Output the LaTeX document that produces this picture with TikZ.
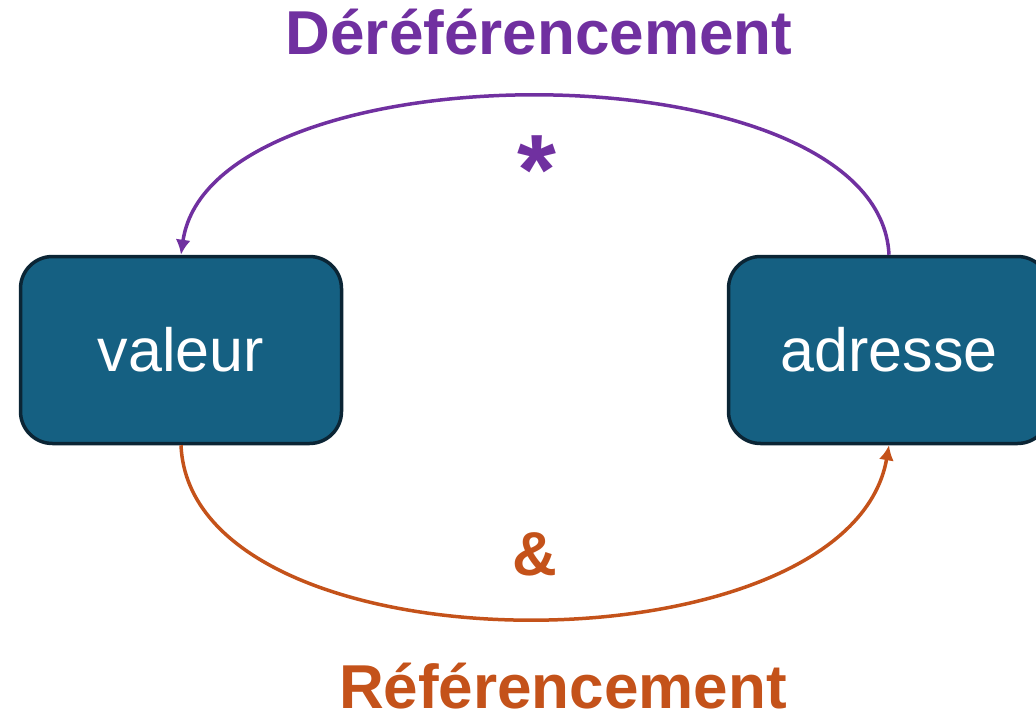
\documentclass[tikz,border=0pt]{standalone}
\usepackage{fontspec}
\setmainfont{Liberation Sans}
\usepackage{xcolor}
\usetikzlibrary{arrows.meta,positioning}

\definecolor{derefcol}{HTML}{7030A0}
\definecolor{refcol}{HTML}{C4521A}
\definecolor{boxfill}{HTML}{156082}
\definecolor{boxline}{HTML}{0B2535}

\begin{document}
\begin{tikzpicture}[x=1pt,y=-1pt,>={Latex[length=15pt,width=15pt]},
  box/.style={draw=boxline,line width=3.5pt,fill=boxfill,rounded corners=32pt,
    minimum width=321pt,minimum height=187pt,text=white,
    font=\fontsize{61}{70}\selectfont},
  big/.style={anchor=base,inner sep=0pt,font=\bfseries\fontsize{62}{70}\selectfont}]
\useasboundingbox (0,0) rectangle (1036,722);
\clip (0,0) rectangle (1036,722);

\node[box] (valeur) at (181,350) {valeur};
\node[box] (adresse) at (889,350) {adresse};

\draw[->,derefcol,line width=3.5pt] (adresse.north)
  .. controls +(-10,-211) and +(30,-211) .. (valeur.north);
\draw[->,refcol,line width=3.5pt] (valeur.south)
  .. controls +(10,231) and +(-40,231) .. (adresse.south);

\node[big,derefcol] (deref) at (539,55) {Déréférencement};
\node[big,refcol] (ref) at (563,708) {Référencement};
\node[big,derefcol,font=\bfseries\fontsize{100}{110}\selectfont] (etoile) at (537,205) {*};
\node[big,refcol] (esperluette) at (535,575) {\&};
\end{tikzpicture}
\end{document}
